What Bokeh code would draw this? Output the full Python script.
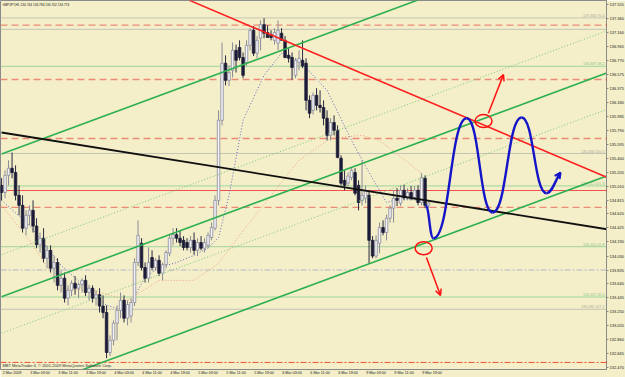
import numpy as np
from bokeh.plotting import figure
from bokeh.models import (Range1d, FixedTicker, NumeralTickFormatter, Label, Arrow,
                          OpenHead, Span, ColumnDataSource)
from bokeh.core.properties import value
from bokeh.embed import file_html
from bokeh.resources import INLINE

# ---------------- data ----------------
symbol_line = "GBPJPY,H1  134.744 134.784 134.702 134.774"
copyright_line = "MBT MetaTrader 4, \u00a9 2001-2009 MetaQuotes Software Corp."

opens = [135.02, 134.92, 135.16, 135.26, 135.20, 134.88, 134.74, 134.42, 134.60, 134.67,
         134.45, 134.19, 134.28, 134.00, 134.11, 133.86, 133.94, 133.62, 133.72, 133.44,
         133.55, 133.65, 133.58, 133.63, 133.69, 133.52, 133.58, 133.44, 133.49, 133.33,
         133.24, 132.68, 132.85, 133.09, 133.27, 133.41, 133.16, 133.19, 133.38, 133.94,
         134.21, 133.87, 133.72, 134.01, 133.87, 133.97, 133.79, 133.91, 134.07, 134.28,
         134.33, 134.28, 134.25, 134.22, 134.15, 134.25, 134.11, 134.22, 134.14, 134.18,
         134.29, 134.42, 134.81, 135.93, 136.73, 136.49, 136.63, 136.91, 136.95, 136.81,
         136.74, 136.98, 137.19, 136.87, 137.08, 137.27, 137.16, 137.13, 137.05, 137.01,
         137.15, 137.05, 136.84, 136.81, 136.56, 136.74, 136.77, 136.73, 136.21, 136.07,
         136.28, 136.14, 136.11, 135.96, 135.72, 135.90, 135.79, 135.40, 135.09, 135.05,
         135.13, 135.20, 135.02, 134.81, 134.84, 134.88, 134.25, 134.03, 134.21, 134.43,
         134.36, 134.56, 134.70, 134.84, 134.77, 134.95, 134.85, 134.92, 134.85, 134.95,
         134.78, 135.12, 134.744]
highs = [135.12, 135.23, 135.37, 135.48, 135.30, 135.02, 134.88, 134.67, 134.74, 134.81,
         134.56, 134.36, 134.42, 134.18, 134.18, 134.04, 134.00, 133.83, 133.80, 133.62,
         133.69, 133.75, 133.66, 133.72, 133.76, 133.63, 133.62, 133.55, 133.58, 133.48,
         133.34, 132.92, 133.13, 133.34, 133.52, 133.48, 133.41, 133.44, 134.00, 134.53,
         134.28, 133.94, 134.15, 134.11, 134.00, 134.04, 133.94, 134.11, 134.32, 134.42,
         134.42, 134.39, 134.31, 134.28, 134.31, 134.36, 134.28, 134.31, 134.28, 134.36,
         134.50, 134.88, 136.07, 137.02, 136.84, 136.70, 137.02, 136.99, 137.05, 136.88,
         137.05, 137.22, 137.25, 137.11, 137.33, 137.36, 137.26, 137.19, 137.22, 137.33,
         137.22, 137.11, 136.94, 136.88, 136.80, 136.91, 137.05, 136.80, 136.28, 136.32,
         136.38, 136.35, 136.21, 136.07, 135.96, 136.00, 135.86, 135.44, 135.23, 135.20,
         135.26, 135.26, 135.09, 135.37, 135.02, 134.95, 134.31, 134.32, 134.50, 134.53,
         134.61, 134.74, 134.95, 134.98, 135.02, 135.03, 134.98, 135.01, 135.01, 135.02,
         135.19, 135.16, 134.784]
lows = [134.81, 134.84, 135.02, 135.12, 134.81, 134.60, 134.36, 134.32, 134.46, 134.36,
        134.14, 134.08, 133.94, 133.86, 133.80, 133.66, 133.55, 133.52, 133.38, 133.34,
        133.47, 133.49, 133.44, 133.52, 133.47, 133.41, 133.38, 133.34, 133.24, 133.16,
        132.60, 132.63, 132.78, 132.85, 133.16, 133.10, 133.06, 133.10, 133.33, 133.89,
        133.83, 133.66, 133.66, 133.83, 133.83, 133.75, 133.69, 133.86, 134.03, 134.18,
        134.22, 134.17, 134.11, 134.11, 134.08, 134.05, 134.03, 134.11, 134.08, 134.14,
        134.25, 134.39, 134.74, 135.86, 136.42, 136.41, 136.53, 136.60, 136.77, 136.52,
        136.69, 136.91, 136.83, 136.80, 136.91, 137.08, 137.09, 137.05, 136.99, 136.91,
        137.05, 136.80, 136.74, 136.50, 136.52, 136.63, 136.66, 136.07, 135.96, 136.01,
        136.07, 136.04, 135.86, 135.65, 135.65, 135.72, 135.40, 135.02, 134.95, 135.01,
        135.09, 134.88, 134.67, 134.74, 134.77, 133.93, 134.00, 134.00, 134.07, 134.32,
        134.25, 134.50, 134.50, 134.73, 134.73, 134.81, 134.81, 134.81, 134.81, 134.74,
        134.74, 134.70, 134.702]
closes = [134.92, 135.16, 135.26, 135.20, 134.88, 134.74, 134.42, 134.60, 134.67, 134.45,
          134.19, 134.28, 134.00, 134.11, 133.86, 133.94, 133.62, 133.72, 133.44, 133.55,
          133.65, 133.58, 133.63, 133.69, 133.52, 133.58, 133.44, 133.49, 133.33, 133.24,
          132.68, 132.85, 133.09, 133.27, 133.41, 133.16, 133.35, 133.38, 133.94, 134.32,
          133.87, 133.72, 133.94, 133.87, 133.97, 133.79, 133.91, 134.08, 134.28, 134.33,
          134.28, 134.22, 134.15, 134.15, 134.25, 134.11, 134.22, 134.14, 134.22, 134.32,
          134.43, 134.81, 135.93, 136.73, 136.49, 136.60, 136.91, 136.77, 136.81, 136.56,
          136.98, 137.19, 136.87, 137.05, 137.27, 137.15, 137.09, 137.09, 137.16, 137.19,
          137.05, 136.81, 136.80, 136.67, 136.77, 136.80, 136.69, 136.21, 136.03, 136.28,
          136.14, 136.11, 135.96, 135.72, 135.90, 135.79, 135.41, 135.05, 135.02, 135.15,
          135.23, 134.91, 134.78, 134.88, 134.95, 134.25, 134.03, 134.25, 134.43, 134.36,
          134.56, 134.70, 134.84, 134.81, 134.95, 134.85, 134.92, 134.85, 134.95, 134.78,
          135.13, 134.74, 134.774]

time_label_bars = [0, 8, 16, 24, 32, 40, 48, 56, 64, 72, 80, 88, 96, 104, 112, 120]
time_labels = ["2 Mar 2009", "3 Mar 03:00", "3 Mar 11:00", "3 Mar 19:00",
               "4 Mar 03:00", "4 Mar 11:00", "4 Mar 19:00", "5 Mar 03:00",
               "5 Mar 11:00", "5 Mar 19:00", "6 Mar 03:00", "6 Mar 11:00",
               "6 Mar 19:00", "9 Mar 03:00", "9 Mar 11:00", "9 Mar 19:00"]

price_tick_labels = ["132.470", "132.665", "132.860", "133.055", "133.250", "133.445",
                     "133.640", "133.835", "134.030", "134.230", "134.425", "134.620",
                     "134.815", "135.010", "135.205", "135.400", "135.595", "135.790",
                     "135.985", "136.180", "136.375", "136.575", "136.770", "136.965",
                     "137.160", "137.360", "137.555"]

# moving averages (dotted), sampled along the curves
ma_fast_bars = [0, 8, 17, 25, 30, 35, 37, 41, 45, 50, 55, 59, 62, 65, 69, 75, 80, 85,
                93, 100, 105, 110, 114, 120]
ma_fast = [134.81, 134.46, 133.90, 133.55, 133.34, 133.27, 133.38, 133.73, 133.87, 133.94,
           134.04, 134.14, 134.29, 134.88, 135.93, 136.56, 136.87, 136.77, 136.35, 135.65,
           135.20, 134.78, 134.84, 134.81]
ma_slow_bars = [0, 8, 17, 26, 36, 45, 55, 62, 68, 77, 85, 94, 103, 108, 120]
ma_slow = [134.74, 134.25, 133.58, 133.55, 133.41, 133.69, 133.69, 133.93, 134.32, 134.88,
           135.37, 135.68, 135.72, 135.65, 135.19]

# trend lines: anchor bars and prices
channel_bars = [0, 175]
green_solid_start = [135.46, 133.46, 132.02]
green_solid_end = [138.63, 136.63, 135.19]
green_dotted_start = [134.05, 132.95]
green_dotted_end = [137.22, 136.12]
black_bars = [0, 175]
black_prices = [135.76, 134.39]
red_bars = [53.7, 175]
red_prices = [137.61, 135.09]

# Fibonacci levels
fib_prices = [137.364, 137.204, 136.687, 135.466, 135.012, 134.161, 133.457, 133.285]
fib_levels = ["76.4", "", "38.2", "100.0", "161.8", "61.8", "50.0", "127.2"]
fib_is_green = [False, False, True, False, True, True, True, False]

# horizontal lines
dashed_prices = [137.262, 136.502, 135.676, 134.712]
red_solid_prices = [134.948]
gray_dashdot_prices = [133.835]
red_dashdot_prices = [132.541]
current_price = 134.774

# hand-drawn projection
wave_bars = [121.1, 123.4, 132.9, 140.3, 148.6, 155.7]
wave_prices = [134.74, 134.28, 135.96, 134.64, 135.97, 134.91]
wave_end_bar, wave_end_price = 159.7, 135.20
circle_bars = [137.7, 120.6]
circle_prices = [135.92, 134.14]
red_arrow_start_bars = [139.1, 121.4]
red_arrow_start_prices = [136.03, 134.01]
red_arrow_end_bars = [143.4, 125.4]
red_arrow_end_prices = [136.57, 133.48]

# ---------------- styling ----------------
BG = "#f4efc9"
FONT = "Liberation Sans"
FRAME_W, FRAME_H = 606, 369
PX_PER_BAR = 3.5
PRICE_PER_PX = 0.014
Y_TOP = 137.608
X_START = -0.3
LABEL_SHIFT = 3

p = figure(frame_width=FRAME_W, frame_height=FRAME_H,
           x_range=Range1d(X_START, X_START + FRAME_W / PX_PER_BAR),
           y_range=Range1d(Y_TOP - FRAME_H * PRICE_PER_PX, Y_TOP),
           output_backend="svg", toolbar_location=None, y_axis_location="right",
           min_border_left=0, min_border_top=0, min_border_right=0, min_border_bottom=0,
           background_fill_color=BG, border_fill_color=BG,
           outline_line_color="#8a8a8a")
p.grid.visible = False

# axes
ya = p.yaxis[0]
ya.ticker = FixedTicker(ticks=[float(s) for s in price_tick_labels])
ya.formatter = NumeralTickFormatter(format="0.000")
ya.major_label_text_font = FONT
ya.major_label_text_font_size = "4px"
ya.major_label_text_color = "#202020"
ya.major_label_standoff = 1
ya.major_tick_out = 2
ya.major_tick_in = 0
ya.minor_tick_out = 0
ya.minor_tick_in = 0
ya.axis_line_color = "#8a8a8a"
ya.major_tick_line_color = "#8a8a8a"

xa = p.xaxis[0]
xa.ticker = FixedTicker(ticks=[b + LABEL_SHIFT for b in time_label_bars])
xa.major_label_overrides = {b + LABEL_SHIFT: t for b, t in zip(time_label_bars, time_labels)}
xa.major_label_text_font = FONT
xa.major_label_text_font_size = "3.7px"
xa.major_label_text_color = "#202020"
xa.major_label_standoff = 1
xa.major_tick_out = 0
xa.major_tick_in = 0
xa.minor_tick_out = 0
xa.minor_tick_in = 0
xa.axis_line_color = "#8a8a8a"

# horizontal levels
for pr, g in zip(fib_prices, fib_is_green):
    p.add_layout(Span(location=pr, dimension="width", line_color="#9fd49a" if g else "#c4c4b4",
                      line_width=1, level="underlay"))
for pr in dashed_prices:
    p.add_layout(Span(location=pr, dimension="width", line_color="#ec8c78", line_width=1.3,
                      line_dash="7 4", level="underlay"))
for pr in red_solid_prices:
    p.add_layout(Span(location=pr, dimension="width", line_color="#f05050", line_width=1,
                      level="underlay"))
for pr in gray_dashdot_prices:
    p.add_layout(Span(location=pr, dimension="width", line_color="#b4b4c8", line_width=1,
                      line_dash="6 2 2 2", level="underlay"))
for pr in red_dashdot_prices:
    p.add_layout(Span(location=pr, dimension="width", line_color="#f05030", line_width=1,
                      line_dash="6 2 2 2", level="underlay"))

fib_src = ColumnDataSource(dict(
    x=[X_START + (FRAME_W - 2) / PX_PER_BAR] * sum(1 for l in fib_levels if l),
    y=[pr for pr, l in zip(fib_prices, fib_levels) if l],
    t=[f"{pr:.3f} {l}" for pr, l in zip(fib_prices, fib_levels) if l],
    c=["#8cc486" if g else "#a8a898" for g, l in zip(fib_is_green, fib_levels) if l]))
p.text(x="x", y="y", text="t", source=fib_src, text_align="right", text_baseline="bottom",
       text_font=value(FONT), text_font_size="3.7px", text_color="c")

# moving averages
p.line(ma_slow_bars, ma_slow, line_color="#f0a080", line_width=1, line_dash="1 2")
p.line(ma_fast_bars, ma_fast, line_color="#6464c0", line_width=1, line_dash="1 2")

# candles
o = np.array(opens); h = np.array(highs); l = np.array(lows); c = np.array(closes)
x = np.arange(len(o))
up = c >= o
dn = ~up
for mask, wick, fill, edge in [(up, "#8a8a9a", "#f2f2fa", "#8a8a9a"),
                               (dn, "#2a2a44", "#1c1c38", "#1c1c38")]:
    src = ColumnDataSource(dict(x=x[mask], hi=h[mask], lo=l[mask],
                                top=np.maximum(o, c)[mask], bot=np.minimum(o, c)[mask]))
    p.segment(x0="x", y0="lo", x1="x", y1="hi", source=src, line_color=wick, line_width=1)
    p.vbar(x="x", width=0.72, top="top", bottom="bot", source=src,
           fill_color=fill, line_color=edge, line_width=0.8)

# trend lines
for a, b in zip(green_solid_start, green_solid_end):
    p.line(channel_bars, [a, b], line_color="#2fb050", line_width=1.6)
for a, b in zip(green_dotted_start, green_dotted_end):
    p.line(channel_bars, [a, b], line_color="#7cc878", line_width=1, line_dash="1 2")
p.line(black_bars, black_prices, line_color="#101010", line_width=1.8)
p.line(red_bars, red_prices, line_color="#ff2020", line_width=1.6)

# projected wave
BLUE = "#1414c8"
wx0, wx1 = wave_bars[:-1], wave_bars[1:]
wy0, wy1 = wave_prices[:-1], wave_prices[1:]
mid = [(a + b) / 2 for a, b in zip(wx0, wx1)]
p.bezier(x0=wx0, y0=wy0, x1=wx1, y1=wy1, cx0=mid, cy0=wy0, cx1=mid, cy1=wy1,
         line_color=BLUE, line_width=2.4)
lb, lp = wave_bars[-1], wave_prices[-1]
p.bezier(x0=[lb], y0=[lp], x1=[wave_end_bar], y1=[wave_end_price],
         cx0=[lb + 0.4 * (wave_end_bar - lb)], cy0=[lp],
         cx1=[lb + 0.6 * (wave_end_bar - lb)], cy1=[lp + 0.6 * (wave_end_price - lp)],
         line_color=BLUE, line_width=2.4)
p.add_layout(Arrow(end=OpenHead(size=6, line_color=BLUE, line_width=2),
                   x_start=lb + 0.8 * (wave_end_bar - lb), y_start=lp + 0.8 * (wave_end_price - lp),
                   x_end=wave_end_bar, y_end=wave_end_price,
                   line_color=BLUE, line_width=2.4))

# red circles and arrows
p.ellipse(x=circle_bars, y=circle_prices, width=17, height=13, width_units="screen",
          height_units="screen", fill_alpha=0, line_color="#ff1010", line_width=1.5)
for xs, ys, xe, ye in zip(red_arrow_start_bars, red_arrow_start_prices,
                          red_arrow_end_bars, red_arrow_end_prices):
    p.add_layout(Arrow(end=OpenHead(size=6, line_color="#ff1010", line_width=1.5),
                       x_start=xs, y_start=ys, x_end=xe, y_end=ye,
                       line_color="#ff1010", line_width=1.5))

# texts inside the chart
p.add_layout(Label(x=X_START + 2 / PX_PER_BAR, y=Y_TOP - 2 * PRICE_PER_PX, text=symbol_line,
                   text_font=FONT, text_font_size="3.2px", text_color="#202020",
                   text_baseline="top"))
p.add_layout(Label(x=X_START + 2 / PX_PER_BAR, y=Y_TOP - 365 * PRICE_PER_PX, text=copyright_line,
                   text_font=FONT, text_font_size="4px", text_color="#303030",
                   text_baseline="middle"))

# price boxes on the axis
x_box = X_START + FRAME_W / PX_PER_BAR
for pr in dashed_prices + red_solid_prices + red_dashdot_prices:
    p.add_layout(Label(x=x_box, y=pr, text=f"{pr:.3f}", text_font=FONT, text_font_size="4px",
                       text_color="white", background_fill_color="#ff0000",
                       text_baseline="middle", text_align="left"))
for pr in gray_dashdot_prices:
    p.add_layout(Label(x=x_box, y=pr, text=f"{pr:.3f}", text_font=FONT, text_font_size="4px",
                       text_color="#202020", background_fill_color="#c8c8dc",
                       text_baseline="middle", text_align="left"))
p.add_layout(Label(x=x_box, y=current_price, text=f"{current_price:.3f}", text_font=FONT,
                   text_font_size="4px", text_color="white", background_fill_color="#10103a",
                   text_baseline="middle", text_align="left"))

open("out.html", "w").write(file_html(p, INLINE))
